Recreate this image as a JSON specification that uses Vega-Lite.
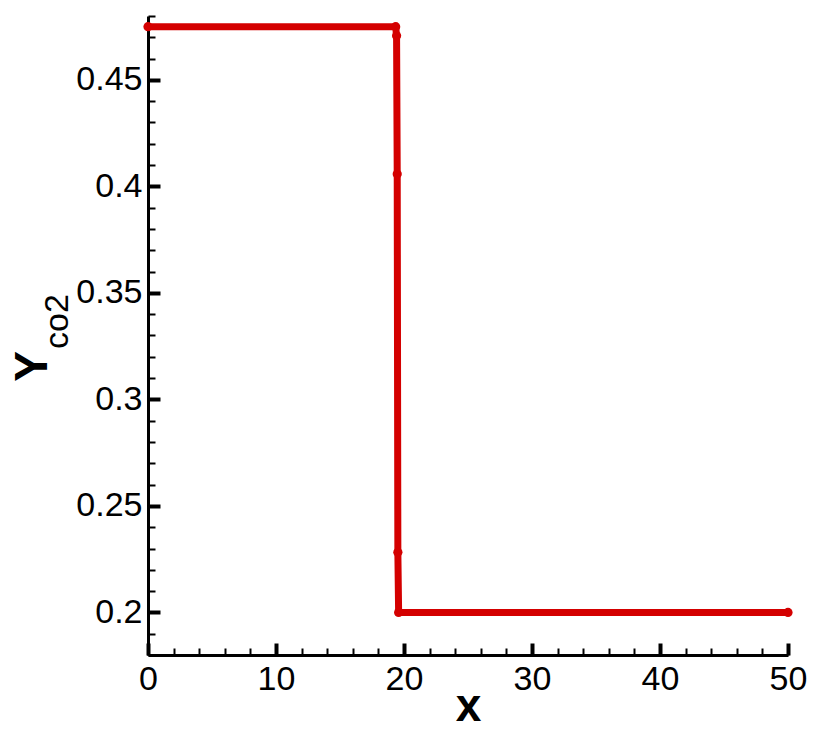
{
  "$schema": "https://vega.github.io/schema/vega-lite/v6.json",
  "autosize": "none",
  "width": 640,
  "height": 639,
  "padding": {"left": 148, "top": 16, "right": 42, "bottom": 84},
  "background": "white",
  "config": {
    "view": {"stroke": null},
    "font": "Liberation Sans",
    "axis": {"grid": false, "domainColor": "black", "tickColor": "black", "labelColor": "black", "titleColor": "black", "labelFont": "Liberation Sans", "titleFont": "Liberation Sans"}
  },
  "data": {
    "values": [
      {"x": 0, "y": 0.475},
      {"x": 19.35, "y": 0.475},
      {"x": 19.42, "y": 0.4707},
      {"x": 19.47, "y": 0.4058},
      {"x": 19.52, "y": 0.2282},
      {"x": 19.58, "y": 0.2},
      {"x": 50, "y": 0.2}
    ]
  },
  "layer": [
    {
      "mark": {"type": "line", "color": "#d40000", "strokeWidth": 7, "strokeCap": "round", "strokeJoin": "round"},
      "encoding": {
        "x": {"field": "x", "type": "quantitative", "scale": {"domain": [0, 50], "nice": false, "zero": false},
          "axis": {"orient": "bottom", "values": [0, 10, 20, 30, 40, 50], "tickSize": -12, "tickWidth": 4, "domainWidth": 3, "labelFontSize": 34, "labelPadding": 19, "labelFlush": false, "title": "x", "titleFontSize": 46, "titleFontWeight": "bold", "titleBaseline": "alphabetic", "titleX": 320, "titleY": 65}},
        "y": {"field": "y", "type": "quantitative", "scale": {"domain": [0.18, 0.48], "nice": false, "zero": false},
          "axis": {"orient": "left", "values": [0.2, 0.25, 0.3, 0.35, 0.4, 0.45], "format": "~g", "tickSize": -12, "tickWidth": 4, "domainWidth": 3, "labelFontSize": 34, "labelPadding": 18, "labelFlush": false, "title": "Y", "titleFontSize": 46, "titleFontWeight": "bold", "titleAngle": -90, "titleAlign": "center", "titleBaseline": "alphabetic", "titleX": -102, "titleY": 350}}
      }
    },
    {
      "mark": {"type": "point", "filled": true, "opacity": 1, "color": "#d40000", "size": 85, "shape": "circle"},
      "encoding": {
        "x": {"field": "x", "type": "quantitative",
          "axis": {"orient": "bottom", "values": [0, 2, 4, 6, 8, 10, 12, 14, 16, 18, 20, 22, 24, 26, 28, 30, 32, 34, 36, 38, 40, 42, 44, 46, 48, 50], "tickSize": -7, "tickWidth": 2, "domain": false, "labels": false, "title": null}},
        "y": {"field": "y", "type": "quantitative",
          "axis": {"orient": "left", "values": [0.18, 0.19, 0.2, 0.21, 0.22, 0.23, 0.24, 0.25, 0.26, 0.27, 0.28, 0.29, 0.3, 0.31, 0.32, 0.33, 0.34, 0.35, 0.36, 0.37, 0.38, 0.39, 0.4, 0.41, 0.42, 0.43, 0.44, 0.45, 0.46, 0.47, 0.48], "tickSize": -7, "tickWidth": 2, "domain": false, "labels": false, "title": "co2", "titleFontSize": 34, "titleFontWeight": "normal", "titleAngle": -90, "titleAlign": "center", "titleBaseline": "alphabetic", "titleX": -81, "titleY": 305}}
      }
    }
  ],
  "resolve": {"axis": {"x": "independent", "y": "independent"}}
}
